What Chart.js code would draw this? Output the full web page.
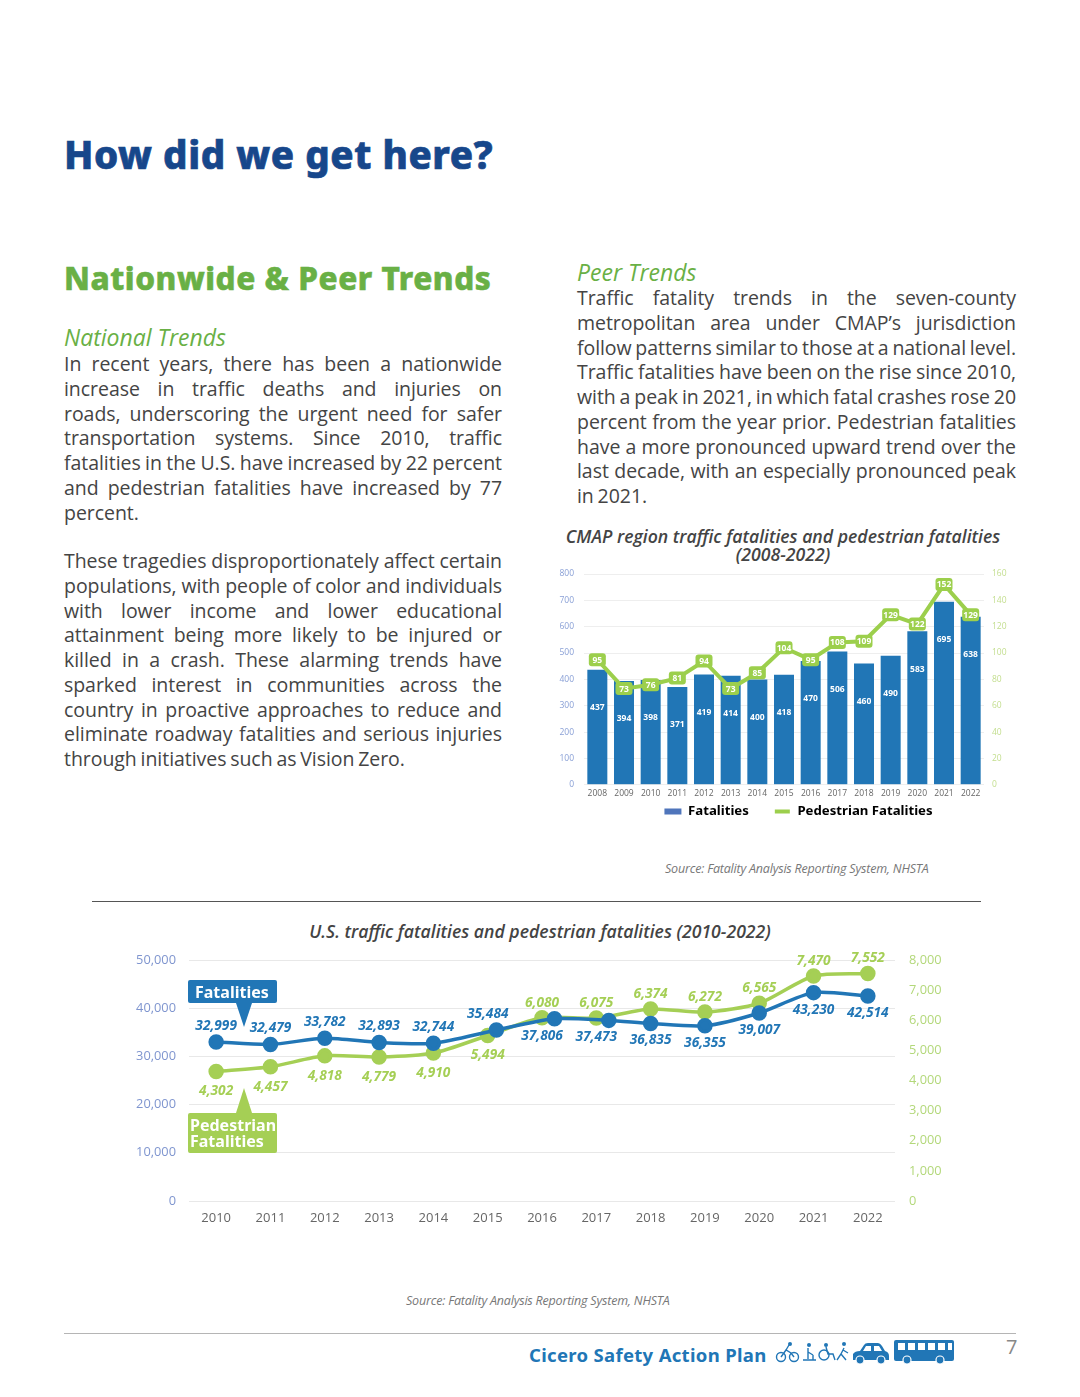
<!DOCTYPE html>
<html>
<head>
<meta charset="utf-8">
<title>How did we get here?</title>
<script src="https://cdn.jsdelivr.net/npm/chart.js@4"></script>
<style>
  html,body{margin:0;padding:0;background:#fff;}
  #page{position:relative;width:1080px;height:1397px;overflow:hidden;font-family:"Open Sans","Noto Sans",sans-serif;}
  #page > *{position:absolute;}
  .line{font-size:19.5px;line-height:25px;height:25px;color:#444;white-space:nowrap;letter-spacing:-.05px;word-spacing:-1.2px;}
  .just{text-align:justify;text-align-last:justify;}
  h1,h2,h3{margin:0;white-space:nowrap;}
  h1{left:64px;top:128px;font:800 38.5px/52px "Noto Sans";color:#17478b;letter-spacing:.55px;-webkit-text-stroke:.7px #17478b;}
  h2{left:64px;top:256px;font:800 31.5px/44px "Noto Sans";color:#69b045;letter-spacing:.55px;-webkit-text-stroke:.6px #69b045;}
  h3{font:italic 400 23px/30px "Open Sans";color:#69b045;}
  .ctitle{font:italic 600 17.65px/18px "Open Sans";color:#444;text-align:center;white-space:nowrap;}
  .src{font:italic 400 12.5px/16px "Open Sans";color:#777;letter-spacing:-.2px;white-space:nowrap;}
  .rule{height:1px;}
  canvas{position:absolute;}
  .callout{color:#fff;font:700 16px/16px "Noto Sans";border-radius:2px;box-sizing:border-box;}
  .tri{width:0;height:0;border-left:8px solid transparent;border-right:8px solid transparent;}
</style>
</head>
<body>
<div id="page">
  <h1>How did we get here?</h1>
  <h2>Nationwide &amp; Peer Trends</h2>
  <h3 style="left:64px;top:322px">National Trends</h3>
  <h3 style="left:577px;top:257px">Peer Trends</h3>

  <div class="ctitle" style="left:550px;width:466px;top:527px">CMAP region traffic fatalities and pedestrian fatalities</div>
  <div class="ctitle" style="left:550px;width:466px;top:545px">(2008-2022)</div>
  <canvas id="cmapChart" width="497" height="263" style="left:550px;top:565px"></canvas>
  <div class="src" style="left:665px;top:861px">Source: Fatality Analysis Reporting System, NHSTA</div>

  <div class="rule" style="left:92px;top:901px;width:889px;background:#555"></div>

  <div class="ctitle" style="left:120px;width:840px;top:922px">U.S. traffic fatalities and pedestrian fatalities (2010-2022)</div>
  <canvas id="usChart" width="840" height="296" style="left:120px;top:945px"></canvas>

  <div class="callout" style="left:188px;top:980px;width:89px;height:23px;background:#2176b6;padding:4px 0 0 7px">Fatalities</div>
  <div class="tri" style="left:236px;top:1003px;border-top:24px solid #2176b6"></div>
  <div class="tri" style="left:236px;top:1088px;border-bottom:25px solid #a5cf55"></div>
  <div class="callout" style="left:188px;top:1113px;width:89px;height:40px;background:#a5cf55;padding:4px 0 0 2px">Pedestrian<br>Fatalities</div>

  <div class="src" style="left:406px;top:1293px">Source: Fatality Analysis Reporting System, NHSTA</div>

  <div class="rule" style="left:64px;top:1333px;width:952px;background:#b5b5b5"></div>
  <div style="left:529px;top:1342px;font:700 18.5px/26px 'Noto Sans';color:#2176b6;white-space:nowrap;letter-spacing:.32px">Cicero Safety Action Plan</div>
  <div style="left:1006px;top:1333px;font:400 20px/28px 'Open Sans';color:#888">7</div>

  <!-- footer icons -->
  <svg style="left:775px;top:1340px" width="182" height="26" viewBox="0 0 182 26" fill="#2176b6" stroke="none">
    <g fill="none" stroke="#2176b6" stroke-width="1.4">
      <circle cx="6" cy="17" r="4.5"/><circle cx="19" cy="17" r="4.5"/>
      <path d="M6 17 L11 10 L16 13 L19 17 M11 10 L14 5"/>
      <path d="M33 8 L33 19 M28 20 L41 20 M33 12 L38 15 M38 15 L38 20"/>
      <circle cx="49" cy="15" r="5"/><path d="M51 7 L53 14 L58 14 L60 20"/>
      <path d="M69 8 L66 14 L62 20 M66 14 L71 20 M68 10 L73 13"/>
    </g>
    <circle cx="15" cy="4" r="2"/><circle cx="34" cy="5" r="2"/><circle cx="51" cy="5" r="2"/><circle cx="69" cy="4" r="2"/>
    <!-- car -->
    <path d="M78 20 L78 14 Q80 11 85 11 L89 5 Q90 3 93 3 L103 3 Q105 3 107 6 L110 11 Q114 12 114 16 L114 20 Z"/>
    <path fill="#fff" d="M91 6 L96 6 L96 11 L88 11 Z M99 6 L104 6 L107 11 L99 11 Z"/>
    <circle cx="85" cy="20" r="4" stroke="#fff" stroke-width="1.2"/><circle cx="106" cy="20" r="4" stroke="#fff" stroke-width="1.2"/>
    <!-- bus -->
    <rect x="119" y="0" width="60" height="21" rx="2"/>
    <g fill="#fff"><rect x="123" y="3" width="7" height="7"/><rect x="133" y="3" width="7" height="7"/><rect x="143" y="3" width="7" height="7"/><rect x="153" y="3" width="7" height="7"/><rect x="163" y="3" width="7" height="7"/><rect x="173" y="3" width="4" height="7"/></g>
    <circle cx="132" cy="20" r="4" stroke="#fff" stroke-width="1.2"/><circle cx="165" cy="20" r="4" stroke="#fff" stroke-width="1.2"/>
  </svg>
</div>

<script>
/* ---- TEXT ---- */
const nationalLines = [
  "In recent years, there has been a nationwide",
  "increase in traffic deaths and injuries on",
  "roads, underscoring the urgent need for safer",
  "transportation systems. Since 2010, traffic",
  "fatalities in the U.S. have increased by 22 percent",
  "and pedestrian fatalities have increased by 77",
  "percent."
];
const tragedyLines = [
  "These tragedies disproportionately affect certain",
  "populations, with people of color and individuals",
  "with lower income and lower educational",
  "attainment being more likely to be injured or",
  "killed in a crash. These alarming trends have",
  "sparked interest in communities across the",
  "country in proactive approaches to reduce and",
  "eliminate roadway fatalities and serious injuries",
  "through initiatives such as Vision Zero."
];
const peerLines = [
  "Traffic fatality trends in the seven-county",
  "metropolitan area under CMAP’s jurisdiction",
  "follow patterns similar to those at a national level.",
  "Traffic fatalities have been on the rise since 2010,",
  "with a peak in 2021, in which fatal crashes rose 20",
  "percent from the year prior. Pedestrian fatalities",
  "have a more pronounced upward trend over the",
  "last decade, with an especially pronounced peak",
  "in 2021."
];

/* ---- DATA: CMAP region ---- */
const cmapYears = ["2008","2009","2010","2011","2012","2013","2014","2015","2016","2017","2018","2019","2020","2021","2022"];
const cmapFatalities = [437,394,398,371,419,414,400,418,470,506,460,490,583,695,638];
const cmapPedestrian = [95,73,76,81,94,73,85,104,95,108,109,129,122,152,129];

/* ---- DATA: U.S. ---- */
const usYears = [2010,2011,2012,2013,2014,2015,2016,2017,2018,2019,2020,2021,2022];
const usFatalities = [32999,32479,33782,32893,32744,35484,37806,37473,36835,36355,39007,43230,42514];
const usPedestrian = [4302,4457,4818,4779,4910,5494,6080,6075,6374,6272,6565,7470,7552];
// 원본에서 파란 점 3개(2015~2017)가 연도 중심보다 오른쪽에 찍혀 있어 그대로 둠
const usFatalityX = [2010,2011,2012,2013,2014,2015.16,2016.23,2017.23,2018,2019,2020,2021,2022];

const BLUE = "#2176b6", GREEN = "#a5cf55", LINE_GREEN = "#9ccf4c";

function placeLines(lines, x, y, width, step, lastLeft){
  const page = document.getElementById("page");
  lines.forEach((t,i)=>{
    const d = document.createElement("div");
    d.className = "line" + (lastLeft && i===lines.length-1 ? "" : " just");
    d.style.left = x+"px"; d.style.top = (y+i*step)+"px"; d.style.width = width+"px";
    d.textContent = t;
    page.appendChild(d);
    // 너비를 넘는 줄만 자간을 줄여 맞춤
    const over = d.scrollWidth - width;
    if(over>0) d.style.letterSpacing = (-.05 - over/t.length)+"px";
  });
}
placeLines(nationalLines, 64, 351, 438, 24.75, true);
placeLines(tragedyLines, 64, 548, 438, 24.75, true);
placeLines(peerLines, 577, 285, 439, 24.75, true);

// 플롯 영역을 고정: 축 너비 지정, 눈금 라벨 여백 제거
function fixedWidth(w){ return scale=>{ scale.width = w; scale.paddingTop = 0; scale.paddingBottom = 0; }; }

/* ---- 막대 안 숫자, 선 위 라벨 상자 ---- */
const cmapLabels = {
  id:"cmapLabels",
  afterDatasetsDraw(chart){
    const {ctx} = chart;
    const barMeta = chart.getDatasetMeta(1), lineMeta = chart.getDatasetMeta(0);
    ctx.save();
    ctx.textAlign = "center"; ctx.textBaseline = "middle";
    ctx.font = "700 8.5px 'Noto Sans'"; ctx.fillStyle = "#fff";
    barMeta.data.forEach((b,i)=> ctx.fillText(cmapFatalities[i], b.x, b.y+38));
    lineMeta.data.forEach((p,i)=>{
      ctx.fillStyle = LINE_GREEN;
      ctx.beginPath(); ctx.roundRect(p.x-8.5, p.y-6.5, 17, 13, 3); ctx.fill();
      ctx.fillStyle = "#fff";
      ctx.fillText(cmapPedestrian[i], p.x, p.y+.5);
    });
    ctx.restore();
  }
};

new Chart(document.getElementById("cmapChart"), {
  data:{
    labels:cmapYears,
    datasets:[
      {type:"line", label:"Pedestrian Fatalities", data:cmapPedestrian, yAxisID:"y1", borderColor:LINE_GREEN, borderWidth:4, pointRadius:0, tension:0},
      {type:"bar", label:"Fatalities", data:cmapFatalities, yAxisID:"y", backgroundColor:BLUE, barPercentage:.75, categoryPercentage:1},
    ]
  },
  options:{
    responsive:false, animation:false,
    layout:{padding:{top:9}},
    plugins:{
      tooltip:{enabled:false},
      legend:{
        position:"bottom",
        labels:{
          boxWidth:17, boxHeight:6, padding:1,
          font:{family:"Noto Sans", size:13.2, weight:"700"}, color:"#555",
          // 범례 순서·간격 맞춤 (뒤 공백이 항목 간격 역할)
          generateLabels:()=>[
            {text:"Fatalities       ", fillStyle:"#4f75bb", strokeStyle:"#4f75bb", lineWidth:0},
            {text:"Pedestrian Fatalities", fillStyle:LINE_GREEN, strokeStyle:"#fff", lineWidth:2},
          ]
        }
      }
    },
    scales:{
      x:{
        grid:{display:false, drawTicks:false}, border:{display:false},
        ticks:{font:{family:"Open Sans", size:8.5}, color:"#666", maxRotation:0, autoSkip:false, padding:4},
        afterFit:s=>{ s.height = 19; }
      },
      y:{
        min:0, max:800, position:"left",
        grid:{color:"#eeeeee", drawTicks:false}, border:{display:false},
        ticks:{stepSize:100, font:{family:"Open Sans", size:8.5}, color:"#8aa0d6", padding:10},
        afterFit:fixedWidth(34)
      },
      y1:{
        min:0, max:160, position:"right",
        grid:{drawOnChartArea:false, drawTicks:false}, border:{display:false},
        ticks:{stepSize:20, font:{family:"Open Sans", size:8.5}, color:"#c3de8e", padding:8},
        afterFit:fixedWidth(63)
      }
    }
  },
  plugins:[cmapLabels]
});

/* ---- 값 라벨: 2015년까지 파랑 위/초록 아래, 2016년부터 반대 ---- */
const usLabels = {
  id:"usLabels",
  afterDatasetsDraw(chart){
    const {ctx, scales} = chart;
    ctx.save();
    ctx.textAlign = "center"; ctx.textBaseline = "middle";
    ctx.font = "italic 700 13.7px 'Open Sans'";
    usYears.forEach((yr,i)=>{
      const x = scales.x.getPixelForValue(yr);
      const early = yr<=2015;
      ctx.fillStyle = BLUE;
      ctx.fillText(usFatalities[i].toLocaleString("en-US"), x, scales.y.getPixelForValue(usFatalities[i]) + (early ? -16 : 17));
      ctx.fillStyle = GREEN;
      ctx.fillText(usPedestrian[i].toLocaleString("en-US"), x, scales.y1.getPixelForValue(usPedestrian[i]) + (early ? 20 : -15));
    });
    ctx.restore();
  }
};

new Chart(document.getElementById("usChart"), {
  type:"line",
  data:{
    datasets:[
      {label:"Fatalities", data:usFatalities.map((v,i)=>({x:usFatalityX[i], y:v})), yAxisID:"y", borderColor:BLUE, backgroundColor:BLUE, borderWidth:3.5, pointRadius:6, tension:.25},
      {label:"Pedestrian Fatalities", data:usPedestrian.map((v,i)=>({x:usYears[i], y:v})), yAxisID:"y1", borderColor:GREEN, backgroundColor:GREEN, borderWidth:3.5, pointRadius:6, tension:.25},
    ]
  },
  options:{
    responsive:false, animation:false,
    layout:{padding:{top:15}},
    plugins:{legend:{display:false}, tooltip:{enabled:false}},
    scales:{
      x:{
        type:"linear", min:2009.5, max:2022.5,
        grid:{display:false}, border:{display:false},
        afterBuildTicks:s=>{ s.ticks = usYears.map(v=>({value:v})); },
        ticks:{callback:v=>String(v), font:{family:"Open Sans", size:13}, color:"#666", maxRotation:0, autoSkip:false, padding:1},
        afterFit:s=>{ s.height = 40; }
      },
      y:{
        min:0, max:50000, position:"left",
        grid:{color:"#e8e8e8", drawTicks:false}, border:{display:false},
        ticks:{stepSize:10000, callback:v=>v.toLocaleString("en-US"), font:{family:"Open Sans", size:12.8}, color:"#7f95cf", padding:13},
        afterFit:fixedWidth(69)
      },
      y1:{
        min:0, max:8000, position:"right",
        grid:{drawOnChartArea:false, drawTicks:false}, border:{display:false},
        ticks:{stepSize:1000, callback:v=>v.toLocaleString("en-US"), font:{family:"Open Sans", size:12.8}, color:"#b3d87a", padding:14},
        afterFit:fixedWidth(65)
      }
    }
  },
  plugins:[usLabels]
});
</script>
</body>
</html>
